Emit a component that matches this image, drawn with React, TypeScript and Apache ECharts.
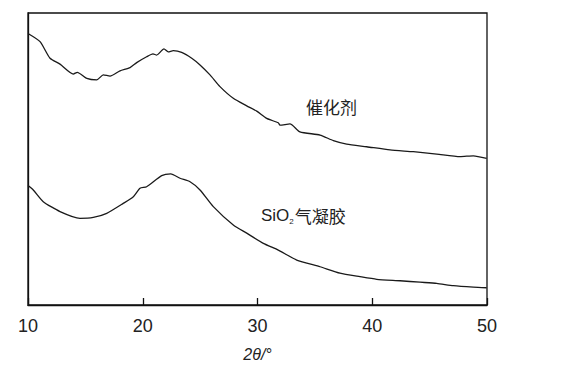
import React, { useEffect, useRef } from "react";
import * as echarts from "echarts";

const catalystX = [10.0, 11.05, 11.92, 12.79, 13.95, 14.3, 15.12, 15.99, 16.56, 17.15, 18.02, 18.89, 19.47, 20.34, 20.89, 21.22, 21.85, 22.22, 22.66, 23.39, 24.27, 24.99, 25.86, 26.73, 27.89, 29.06, 29.93, 30.8, 31.81, 31.96, 32.83, 33.7, 35.45, 36.61, 37.77, 39.52, 41.55, 43.58, 45.62, 47.65, 48.81, 49.97];
const catalystY = [93.0, 90.2, 84.5, 82.5, 79.1, 79.7, 77.6, 77.1, 78.8, 78.4, 80.2, 81.3, 83.0, 85.0, 86.0, 85.6, 87.7, 86.7, 87.1, 86.5, 84.5, 82.2, 78.8, 74.8, 70.8, 68.2, 66.4, 63.9, 62.4, 61.6, 62.0, 59.3, 58.2, 56.3, 55.1, 54.2, 53.1, 52.5, 51.7, 50.8, 51.1, 50.2];

const aerogelX = [10.0, 10.46, 11.33, 12.79, 14.53, 15.69, 16.86, 18.3, 19.18, 19.76, 20.34, 21.65, 22.44, 23.25, 24.12, 24.99, 26.15, 27.89, 29.06, 30.51, 31.81, 33.42, 35.45, 37.19, 38.93, 40.39, 42.42, 44.16, 45.62, 47.06, 48.81, 49.97];
const aerogelY = [40.9, 39.4, 35.4, 32.0, 29.7, 30.0, 31.4, 34.8, 37.1, 40.0, 40.5, 44.3, 44.9, 43.4, 42.2, 39.4, 33.7, 27.4, 24.6, 21.1, 18.8, 15.4, 13.1, 10.9, 9.7, 8.8, 8.3, 7.8, 7.4, 6.6, 6.1, 5.9];

const xTicks = [10, 20, 30, 40, 50];
const labelCatalyst = "催化剂";
const labelAerogel = ["SiO", "2", "气凝胶"];
const axisName = "2θ/°";

const LATIN = "'Liberation Sans', Arial, sans-serif";
const CJK = "'Noto Sans CJK SC', 'Liberation Sans', sans-serif";

export default function App() {
  const ref = useRef<HTMLDivElement>(null);
  useEffect(() => {
    document.body.style.margin = "0";
    if (!ref.current) return;
    const chart = echarts.init(ref.current, null, { renderer: "svg" });
    const lineStyle = { color: "#1a1a1a", width: 1.3 };
    chart.setOption({
      animation: false,
      backgroundColor: "#fff",
      grid: {
        left: 28,
        top: 13,
        right: 74,
        bottom: 76,
        show: true,
        borderColor: "#111",
        borderWidth: 1.3,
      },
      xAxis: {
        type: "value",
        min: xTicks[0],
        max: xTicks[xTicks.length - 1],
        interval: 10,
        name: axisName,
        nameLocation: "middle",
        nameGap: 41,
        nameTextStyle: {
          fontFamily: LATIN,
          fontStyle: "italic",
          fontSize: 16,
          color: "#222",
        },
        axisLine: { show: true, lineStyle: { color: "#111", width: 1.3 } },
        axisTick: {
          show: true,
          inside: true,
          length: 7,
          lineStyle: { color: "#111", width: 1.3 },
        },
        axisLabel: {
          fontFamily: LATIN,
          fontSize: 18,
          color: "#222",
          margin: 12,
        },
        splitLine: { show: false },
      },
      yAxis: {
        type: "value",
        min: 0,
        max: 100,
        axisLine: { show: true, lineStyle: { color: "#111", width: 1.3 } },
        axisTick: { show: false },
        axisLabel: { show: false },
        splitLine: { show: false },
      },
      series: [
        {
          type: "line",
          name: labelCatalyst,
          data: catalystX.map((x, i) => [x, catalystY[i]]),
          showSymbol: false,
          smooth: 0.2,
          lineStyle,
        },
        {
          type: "line",
          name: labelAerogel.join(""),
          data: aerogelX.map((x, i) => [x, aerogelY[i]]),
          showSymbol: false,
          smooth: 0.2,
          lineStyle,
        },
      ],
      graphic: [
        {
          type: "text",
          left: 306,
          top: 98,
          style: {
            text: labelCatalyst,
            font: `normal 17px ${CJK}`,
            fill: "#222",
          },
        },
        {
          type: "text",
          left: 261,
          top: 207,
          style: {
            text: `{a|${labelAerogel[0]}}{b|${labelAerogel[1]}}{c|${labelAerogel[2]}}`,
            fill: "#222",
            rich: {
              a: { fontFamily: LATIN, fontSize: 17, fill: "#222" },
              b: { fontFamily: LATIN, fontSize: 8, fill: "#222", padding: [11, 1, 0, 0] },
              c: { fontFamily: CJK, fontSize: 17, fill: "#222" },
            },
          },
        },
      ],
    });
    return () => chart.dispose();
  }, []);
  return <div ref={ref} style={{ width: 561, height: 381 }} />;
}
